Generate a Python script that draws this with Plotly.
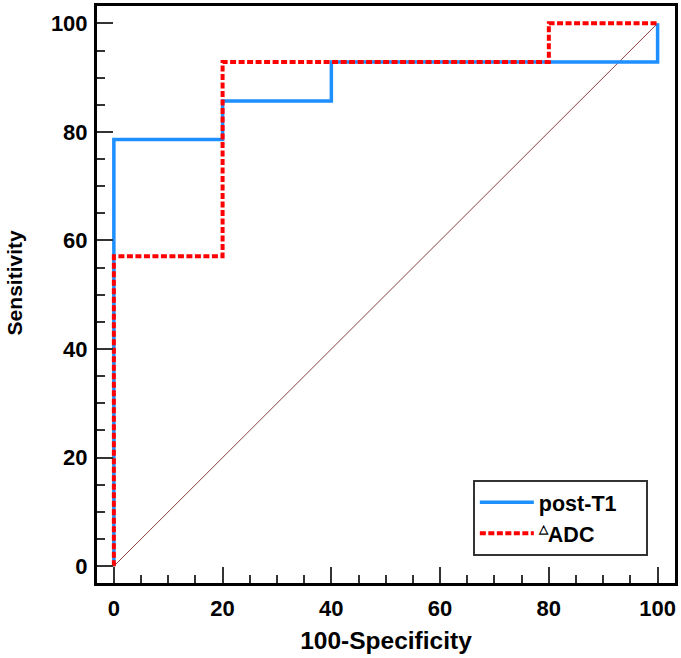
import plotly.graph_objects as go

# ROC curve data (100-Specificity, Sensitivity)
post_t1_x = [0, 0, 20, 20, 40, 40, 100, 100]
post_t1_y = [0, 78.6, 78.6, 85.7, 85.7, 92.9, 92.9, 100]
adc_x = [0, 0, 20, 20, 80, 80, 100]
adc_y = [0, 57.1, 57.1, 92.9, 92.9, 100, 100]
diag_x = [0, 100]
diag_y = [0, 100]
tick_vals = [0, 20, 40, 60, 80, 100]

FONT = "Liberation Sans, Arial, sans-serif"
PAD = "&nbsp;" * 4

fig = go.Figure()
fig.add_trace(go.Scatter(x=diag_x, y=diag_y, mode="lines",
                         line=dict(color="#8B3F3F", width=1), showlegend=False,
                         hoverinfo="skip"))
fig.add_trace(go.Scatter(x=post_t1_x, y=post_t1_y, mode="lines", name="post-T1" + PAD,
                         line=dict(color="#1E8FFF", width=3.5)))
fig.add_trace(go.Scatter(x=adc_x, y=adc_y, mode="lines",
                         name="<sup><span style='font-size:12px'>△</span></sup>ADC" + PAD,
                         line=dict(color="#FF0000", width=4, dash="6px,2.5px")))

axis_common = dict(
    range=[-3.1, 103.2], tickvals=tick_vals, ticks="inside", ticklen=16,
    tickwidth=2, tickcolor="#333333", showline=True, linecolor="black",
    linewidth=3, mirror=True, showgrid=False, zeroline=False,
    tickfont=dict(family=FONT, size=22, color="black", weight="bold"),
    minor=dict(dtick=5, ticks="inside", ticklen=8, tickwidth=2,
               tickcolor="#333333", showgrid=False),
)

fig.update_layout(
    width=681, height=658,
    margin=dict(l=97, r=6, t=3, b=75),
    paper_bgcolor="white", plot_bgcolor="white",
    xaxis=dict(axis_common, title=dict(text="100-Specificity", standoff=12,
               font=dict(family=FONT, size=24.5, color="black", weight="bold")),
               ticklabelstandoff=4),
    yaxis=dict(axis_common, ticklabelstandoff=2),
    legend=dict(x=0.953, y=0.047, xanchor="right", yanchor="bottom",
                bordercolor="#333333", borderwidth=2, bgcolor="white",
                font=dict(family=FONT, size=21.5, color="black", weight="bold"),
                traceorder="normal", tracegroupgap=0, itemwidth=54),
    showlegend=True,
    annotations=[dict(text="Sensitivity", textangle=-90, xref="paper", yref="paper",
                      x=-0.1436, y=0.521, xanchor="center", yanchor="middle",
                      showarrow=False,
                      font=dict(family=FONT, size=21, color="black", weight="bold"))],
)

fig.write_html("out.html")
